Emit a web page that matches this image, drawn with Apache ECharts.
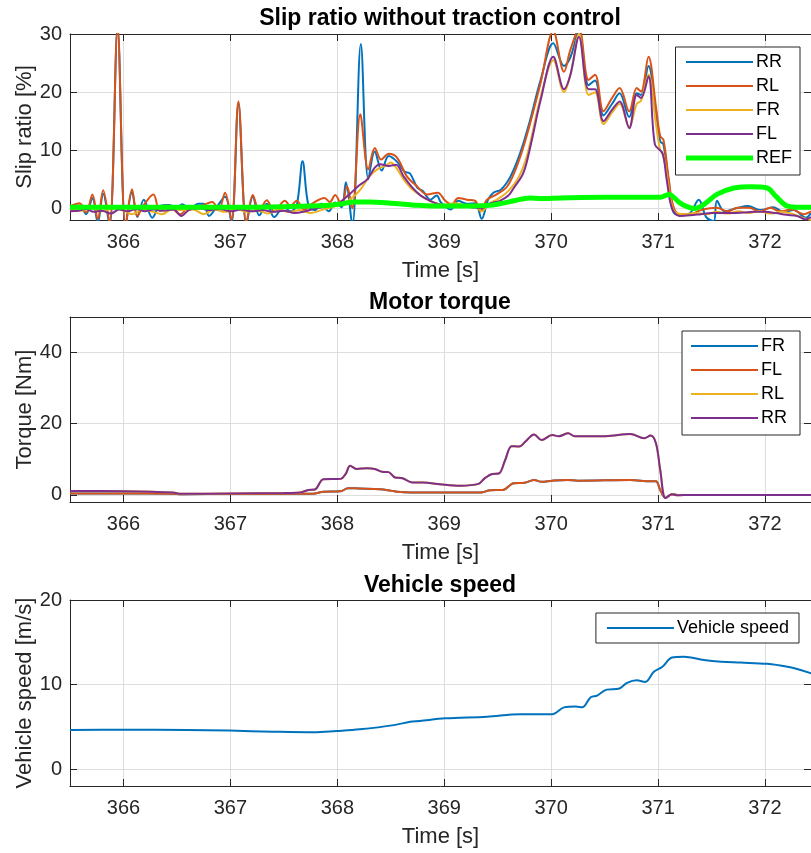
<!DOCTYPE html>
<html>
<head>
<meta charset="utf-8">
<script src="https://cdn.jsdelivr.net/npm/echarts@6/dist/echarts.min.js"></script>
<style>
  html, body { margin: 0; padding: 0; background: #fff; }
  #chart { width: 811px; height: 853px; }
</style>
</head>
<body>
<div id="chart"></div>
<script>
// slip ratio [%], time [s]
const slipRRTime = [365.50, 365.59, 365.65, 365.71, 365.76, 365.81, 365.87, 365.945, 366.02, 366.08, 366.13, 366.19, 366.27, 366.34, 366.42, 366.50, 366.55, 366.62, 366.70, 366.75, 366.80, 366.87, 366.95, 367.01, 367.075, 367.15, 367.21, 367.27, 367.34, 367.41, 367.50, 367.56, 367.62, 367.675, 367.73, 367.79, 367.85, 367.92, 367.98, 368.04, 368.08, 368.14, 368.22, 368.29, 368.35, 368.415, 368.48, 368.56, 368.63, 368.68, 368.75, 368.80, 368.87, 368.93, 368.97, 369.06, 369.13, 369.21, 369.29, 369.35, 369.41, 369.46, 369.53, 369.62, 369.71, 369.80, 369.90, 370.02, 370.12, 370.18, 370.26, 370.35, 370.41, 370.49, 370.57, 370.64, 370.73, 370.80, 370.84, 370.91, 370.98, 371.02, 371.05, 371.10, 371.14, 371.22, 371.30, 371.38, 371.45, 371.52, 371.55, 371.62, 371.73, 371.84, 371.96, 372.08, 372.17, 372.27, 372.38, 372.43];
const slipRR = [0.2, 0.5, -1.0, 1.8, -2.5, 2.5, -3, 31, -3, 2.8, -1.5, 1.5, -1.6, 0.4, 0.6, 0.2, 0.7, -0.2, 0.8, 0.8, -1.3, 0.2, 2.0, -2.5, 18, -2.8, 2.0, -1.2, 0.8, -1.5, 0.3, -0.5, 0.5, 8.1, 0.5, -0.3, 0.8, -0.5, 1.0, 0.2, 4.5, -3, 28.3, 5, 9.8, 6.5, 9, 8, 6.3, 6.0, 3.5, 3.0, 1.5, 2.2, 1.0, -0.2, 1.3, 0.8, 0.9, -1.8, 1.5, 2.7, 3.2, 5.5, 9.5, 15, 22, 28.4, 24.5, 26, 30.5, 21.2, 22, 16, 18, 19.8, 15.7, 19.8, 19.5, 24.5, 16.5, 11.5, 11, 4.5, -0.5, -1.2, -0.8, 1.5, -1.5, -2.2, 1.3, -0.5, 0.0, 0.4, -0.3, 0.2, -0.6, -0.3, -1.6, -0.8];

const slipRLTime = [365.50, 365.59, 365.65, 365.71, 365.76, 365.81, 365.87, 365.945, 366.02, 366.08, 366.13, 366.18, 366.28, 366.34, 366.42, 366.53, 366.62, 366.72, 366.83, 366.89, 366.95, 367.01, 367.075, 367.15, 367.21, 367.27, 367.34, 367.41, 367.51, 367.56, 367.62, 367.69, 367.78, 367.88, 367.93, 367.98, 368.04, 368.09, 368.14, 368.215, 368.29, 368.35, 368.41, 368.48, 368.56, 368.65, 368.74, 368.84, 368.94, 369.01, 369.07, 369.13, 369.21, 369.29, 369.34, 369.40, 369.49, 369.59, 369.68, 369.77, 369.90, 370.02, 370.12, 370.18, 370.26, 370.35, 370.41, 370.49, 370.57, 370.64, 370.73, 370.80, 370.84, 370.91, 370.98, 371.02, 371.05, 371.10, 371.14, 371.20, 371.30, 371.40, 371.55, 371.65, 371.74, 371.85, 371.95, 372.05, 372.14, 372.25, 372.36, 372.43];
const slipRL = [0.4, 0.9, -0.7, 2.4, -1.9, 3.1, -2.5, 31, -3, 3.3, -1.3, 0.3, 2.4, -0.5, 0.5, -1.0, 0.3, 0.4, 1.1, -0.3, 2.7, -2, 18.4, -2.5, 2.3, -0.4, 1.4, -0.5, 1.3, 0.4, 1.3, -0.2, 1.0, 1.8, 1.1, 2.3, 0.5, 3.8, 0, 16.2, 6.7, 10.4, 8.4, 9.4, 8.7, 5.5, 3.9, 2.4, 2.7, 1.3, 0.7, 1.8, 1.5, 1.3, -0.5, 1.5, 2.4, 3.8, 7.3, 12.4, 21.5, 30.5, 23.5, 27.3, 31, 22.1, 23, 16.7, 19, 20.7, 16.7, 20.7, 20.1, 26.1, 17.5, 12.4, 11.8, 5, 0.5, -1.0, -1.0, -0.3, 0.1, -0.5, 0.1, 0.1, -0.5, 0.1, -0.5, -0.2, -1.0, -0.5];

const slipFRTime = [365.50, 365.60, 365.70, 365.80, 365.90, 366.00, 366.08, 366.18, 366.28, 366.36, 366.45, 366.55, 366.65, 366.75, 366.85, 366.95, 367.05, 367.15, 367.25, 367.35, 367.45, 367.55, 367.65, 367.75, 367.85, 367.95, 368.05, 368.15, 368.22, 368.30, 368.38, 368.45, 368.50, 368.55, 368.62, 368.70, 368.80, 368.90, 369.00, 369.10, 369.20, 369.30, 369.35, 369.42, 369.50, 369.60, 369.70, 369.78, 369.90, 370.02, 370.12, 370.18, 370.26, 370.35, 370.41, 370.49, 370.57, 370.64, 370.73, 370.80, 370.84, 370.91, 370.98, 371.02, 371.05, 371.10, 371.15, 371.25, 371.35, 371.45, 371.55, 371.65, 371.75, 371.85, 371.95, 372.05, 372.15, 372.25, 372.35, 372.43];
const slipFR = [-0.2, -0.4, 0.0, -0.5, 0.0, -0.3, -1.0, -0.2, -0.6, -1.0, -0.2, -0.3, -0.2, -1.0, -0.2, -0.6, 0.0, -0.6, -0.3, -0.9, -0.2, -0.6, -0.3, -0.8, -0.3, 0.2, 0.8, 2.0, 3.3, 5.5, 6.8, 7.3, 7.9, 7.0, 5.0, 3.3, 2.0, 1.0, 0.6, 0.9, 0.5, 0.2, -0.5, 0.8, 1.6, 3.0, 5.5, 9.5, 19, 25.5, 20, 23, 30, 19.5, 20, 14.5, 16.5, 18, 14, 18, 18.5, 23, 14.5, 10, 9.2, 3.5, -0.5, -1.0, -0.8, -1.0, -0.6, -0.9, -0.5, -0.8, -0.5, -0.9, -0.6, -0.9, -1.6, -2.0];

const slipFLTime = [365.50, 365.58, 365.65, 365.72, 365.80, 365.88, 365.96, 366.04, 366.12, 366.20, 366.28, 366.37, 366.47, 366.54, 366.62, 366.72, 366.80, 366.90, 367.00, 367.10, 367.20, 367.30, 367.40, 367.50, 367.60, 367.70, 367.80, 367.90, 368.00, 368.10, 368.20, 368.28, 368.35, 368.40, 368.48, 368.55, 368.62, 368.70, 368.78, 368.87, 368.95, 369.05, 369.15, 369.25, 369.35, 369.42, 369.52, 369.60, 369.65, 369.74, 369.81, 369.90, 370.02, 370.12, 370.18, 370.26, 370.35, 370.41, 370.49, 370.57, 370.64, 370.73, 370.80, 370.84, 370.91, 370.97, 371.04, 371.08, 371.13, 371.20, 371.30, 371.40, 371.50, 371.60, 371.70, 371.80, 371.90, 372.00, 372.10, 372.20, 372.30, 372.38, 372.43];
const slipFL = [-0.5, -0.4, -0.1, -0.6, -0.4, -0.9, -0.2, -0.5, -0.1, -0.5, -0.2, -0.4, -0.2, -1.3, -0.2, 0.0, -0.3, -0.1, -0.5, -0.2, -0.5, -0.3, -0.6, -0.4, -0.8, -0.5, 0.0, 0.3, 0.8, 2.2, 3.9, 5.0, 7.0, 7.6, 7.3, 7.5, 5.5, 3.6, 2.2, 1.3, 0.7, 0.3, 0.5, 0.2, 0.0, 0.8, 1.3, 2.2, 3.5, 6.1, 11, 18.5, 26.1, 20.5, 23, 29.5, 20.5, 20.5, 15, 17, 18.4, 13.8, 19.5, 19, 22.7, 11, 9.5, 5, 0, -1.3, -1.2, -1.0, -0.8, -0.8, -0.8, -0.7, -0.6, -0.6, -0.8, -1.1, -1.3, -1.9, -1.5];

const slipRefTime = [365.50, 366.00, 366.50, 367.00, 367.50, 367.90, 368.05, 368.15, 368.30, 368.50, 368.70, 368.90, 369.10, 369.40, 369.55, 369.65, 369.80, 369.90, 370.10, 370.50, 370.90, 371.02, 371.10, 371.20, 371.27, 371.34, 371.43, 371.55, 371.71, 371.87, 372.02, 372.10, 372.21, 372.34, 372.43];
const slipRef = [0.2, 0.2, 0.2, 0.2, 0.3, 0.5, 0.8, 1.1, 1.1, 0.9, 0.6, 0.4, 0.4, 0.5, 0.9, 1.3, 1.8, 1.7, 1.8, 1.9, 1.9, 1.9, 2.4, 1.0, 0.3, 0.0, 0.7, 2.4, 3.5, 3.7, 3.5, 2.1, 0.4, 0.2, 0.2];

// motor torque [Nm]; FR = FL and RL = RR in the recording
const torqueFrontTime = [365.50, 366.00, 366.45, 366.55, 367.00, 367.50, 367.77, 367.87, 368.03, 368.10, 368.20, 368.40, 368.50, 368.56, 368.80, 369.34, 369.43, 369.55, 369.65, 369.75, 369.84, 369.91, 370.01, 370.15, 370.25, 370.74, 370.93, 370.98, 371.02, 371.07, 371.13, 371.18, 372.43];
const torqueFront = [0.4, 0.4, 0.35, 0.2, 0.25, 0.3, 0.3, 0.9, 1.0, 1.9, 1.8, 1.6, 1.2, 0.9, 0.65, 0.65, 1.3, 1.4, 3.3, 3.4, 4.2, 3.7, 4.0, 4.2, 4.0, 4.2, 3.8, 3.8, 1.4, -0.9, 0.2, 0.0, 0.0];
const torqueRearTime = [365.50, 366.00, 366.46, 366.54, 367.00, 367.50, 367.65, 367.73, 367.79, 367.87, 368.03, 368.08, 368.12, 368.18, 368.28, 368.35, 368.42, 368.48, 368.54, 368.61, 368.70, 368.80, 368.96, 369.15, 369.32, 369.38, 369.45, 369.51, 369.57, 369.63, 369.70, 369.76, 369.84, 369.91, 370.01, 370.07, 370.16, 370.22, 370.51, 370.74, 370.87, 370.93, 370.98, 371.02, 371.07, 371.13, 371.18, 371.30, 372.43];
const torqueRear = [1.1, 1.0, 0.65, 0.3, 0.4, 0.5, 0.65, 1.4, 1.5, 4.4, 4.5, 6.0, 8.2, 7.3, 7.5, 7.3, 6.5, 6.4, 4.9, 4.7, 3.5, 3.5, 3.0, 2.6, 3.1, 4.7, 5.9, 6.0, 9.8, 13.7, 13.6, 15, 17, 15.4, 16.8, 16.5, 17.3, 16.5, 16.5, 17.1, 15.9, 16.7, 14.5, 7, -0.9, 0.2, -0.1, 0.0, 0.0];

// vehicle speed [m/s]
const speedTime = [365.50, 366.00, 366.59, 366.99, 367.40, 367.78, 367.99, 368.21, 368.53, 368.68, 368.77, 369.01, 369.40, 369.71, 370.01, 370.12, 370.23, 370.29, 370.37, 370.43, 370.52, 370.63, 370.71, 370.80, 370.88, 370.96, 371.04, 371.13, 371.24, 371.43, 371.59, 371.77, 372.02, 372.21, 372.34, 372.44];
const speed = [4.62, 4.66, 4.62, 4.55, 4.42, 4.35, 4.5, 4.7, 5.2, 5.6, 5.7, 6.0, 6.2, 6.5, 6.5, 7.3, 7.4, 7.3, 8.5, 8.7, 9.4, 9.5, 10.2, 10.5, 10.3, 11.5, 12.1, 13.2, 13.3, 12.9, 12.7, 12.6, 12.45, 12.1, 11.7, 11.3];

const xTicks = [366, 367, 368, 369, 370, 371, 372];

const FONT = '"Liberation Sans", Arial, Helvetica, sans-serif';
const AXIS_COLOR = '#262626';
const GRID_COLOR = '#dedede';
const T_MIN = 365.5;
const T_MAX = 372.43;

const zip = (ts, vs) => ts.map((t, i) => [t, vs[i]]);

const chart = echarts.init(document.getElementById('chart'), null, { renderer: 'canvas' });

const grids = [
  { left: 70, top: 34, width: 741, height: 186 },
  { left: 70, top: 317, width: 741, height: 185 },
  { left: 70, top: 600, width: 741, height: 186 }
];

const bottomXAxis = (gridIndex) => ({
  type: 'value',
  gridIndex,
  min: T_MIN,
  max: T_MAX,
  minInterval: 1,
  maxInterval: 1,
  name: 'Time [s]',
  nameLocation: 'middle',
  nameGap: 40,
  nameTextStyle: { fontFamily: FONT, fontSize: 22, color: AXIS_COLOR },
  axisLine: { show: true, onZero: false, lineStyle: { color: AXIS_COLOR, width: 1 } },
  axisTick: { show: true, inside: true, length: 7, lineStyle: { color: AXIS_COLOR } },
  axisLabel: {
    fontFamily: FONT,
    fontSize: 20,
    color: AXIS_COLOR,
    margin: 12,
    showMinLabel: false,
    showMaxLabel: false,
    formatter: (v) => (xTicks.includes(v) ? String(v) : '')
  },
  splitLine: { show: true, lineStyle: { color: GRID_COLOR, width: 1 } }
});

const topXAxis = (gridIndex) => ({
  type: 'value',
  gridIndex,
  position: 'top',
  min: T_MIN,
  max: T_MAX,
  minInterval: 1,
  maxInterval: 1,
  axisLine: { show: true, onZero: false, lineStyle: { color: AXIS_COLOR, width: 1 } },
  axisTick: { show: true, inside: true, length: 7, lineStyle: { color: AXIS_COLOR } },
  axisLabel: { show: false },
  splitLine: { show: false }
});

const leftYAxis = (gridIndex, name, max, step) => ({
  type: 'value',
  gridIndex,
  min: -2,
  max,
  minInterval: step,
  maxInterval: step,
  name,
  nameLocation: 'middle',
  nameGap: 34,
  nameMoveOverlap: false,
  nameTextStyle: { fontFamily: FONT, fontSize: 22, color: AXIS_COLOR },
  axisLine: { show: true, onZero: false, lineStyle: { color: AXIS_COLOR, width: 1 } },
  axisTick: { show: true, inside: true, length: 7, lineStyle: { color: AXIS_COLOR } },
  axisLabel: {
    fontFamily: FONT,
    fontSize: 20,
    color: AXIS_COLOR,
    margin: 8,
    showMinLabel: false,
    formatter: (v) => (v % step === 0 ? String(v) : '')
  },
  splitLine: { show: true, lineStyle: { color: GRID_COLOR, width: 1 } }
});

const rightYAxis = (gridIndex, max, step) => ({
  type: 'value',
  gridIndex,
  position: 'right',
  min: -2,
  max,
  minInterval: step,
  maxInterval: step,
  axisLine: { show: true, onZero: false, lineStyle: { color: AXIS_COLOR, width: 1 } },
  axisTick: { show: true, inside: true, length: 7, lineStyle: { color: AXIS_COLOR } },
  axisLabel: { show: false },
  splitLine: { show: false }
});

const lineSeries = (name, data, color, axisIndex, width) => ({
  name,
  type: 'line',
  xAxisIndex: axisIndex,
  yAxisIndex: axisIndex,
  data,
  smooth: 0.35,
  symbol: 'none',
  clip: true,
  lineStyle: { color, width },
  itemStyle: { color },
  animation: false
});

const legendBase = {
  orient: 'vertical',
  backgroundColor: '#fff',
  borderColor: AXIS_COLOR,
  borderWidth: 1,
  borderRadius: 0,
  itemWidth: 67,
  itemHeight: 18,
  itemGap: 6,
  padding: [6, 8, 8, 8],
  itemStyle: { opacity: 0 },
  lineStyle: { width: 2 },
  textStyle: { fontFamily: FONT, fontSize: 18, color: '#000', padding: [0, 0, 0, -2] },
  selectedMode: false
};

const titleBase = {
  left: 440,
  textAlign: 'center',
  padding: 0,
  textStyle: { fontFamily: FONT, fontSize: 23, fontWeight: 'bold', color: '#000' }
};

const option = {
  animation: false,
  backgroundColor: '#fff',
  title: [
    Object.assign({}, titleBase, { text: 'Slip ratio without traction control', top: 7 }),
    Object.assign({}, titleBase, { text: 'Motor torque', top: 291 }),
    Object.assign({}, titleBase, { text: 'Vehicle speed', top: 574 })
  ],
  grid: grids,
  xAxis: [bottomXAxis(0), topXAxis(0), bottomXAxis(1), topXAxis(1), bottomXAxis(2), topXAxis(2)],
  yAxis: [
    leftYAxis(0, 'Slip ratio [%]', 30, 10), rightYAxis(0, 30, 10),
    leftYAxis(1, 'Torque [Nm]', 50, 20), rightYAxis(1, 50, 20),
    leftYAxis(2, 'Vehicle speed [m/s]', 20, 10), rightYAxis(2, 20, 10)
  ],
  legend: [
    Object.assign({}, legendBase, {
      data: ['RR', 'RL', 'FR', 'FL', { name: 'REF', lineStyle: { width: 5 } }],
      right: 11,
      top: 47
    }),
    Object.assign({}, legendBase, { data: ['FR ', 'FL ', 'RL ', 'RR '], right: 11, top: 331 }),
    Object.assign({}, legendBase, { data: ['Vehicle speed'], right: 12, top: 613, padding: [6, 10, 6, 10] })
  ],
  series: [
    lineSeries('RR', zip(slipRRTime, slipRR), '#0072BD', 0, 2),
    lineSeries('RL', zip(slipRLTime, slipRL), '#D95319', 0, 2),
    lineSeries('FR', zip(slipFRTime, slipFR), '#EDB120', 0, 2),
    lineSeries('FL', zip(slipFLTime, slipFL), '#7E2F8E', 0, 2),
    lineSeries('REF', zip(slipRefTime, slipRef), '#00FF00', 0, 5),
    // trailing space keeps torque legend names apart from slip ones
    lineSeries('FR ', zip(torqueFrontTime, torqueFront), '#0072BD', 2, 2),
    lineSeries('FL ', zip(torqueFrontTime, torqueFront), '#D95319', 2, 2),
    lineSeries('RL ', zip(torqueRearTime, torqueRear), '#EDB120', 2, 2),
    lineSeries('RR ', zip(torqueRearTime, torqueRear), '#7E2F8E', 2, 2),
    lineSeries('Vehicle speed', zip(speedTime, speed), '#0072BD', 4, 2)
  ]
};

chart.setOption(option);
</script>
</body>
</html>
